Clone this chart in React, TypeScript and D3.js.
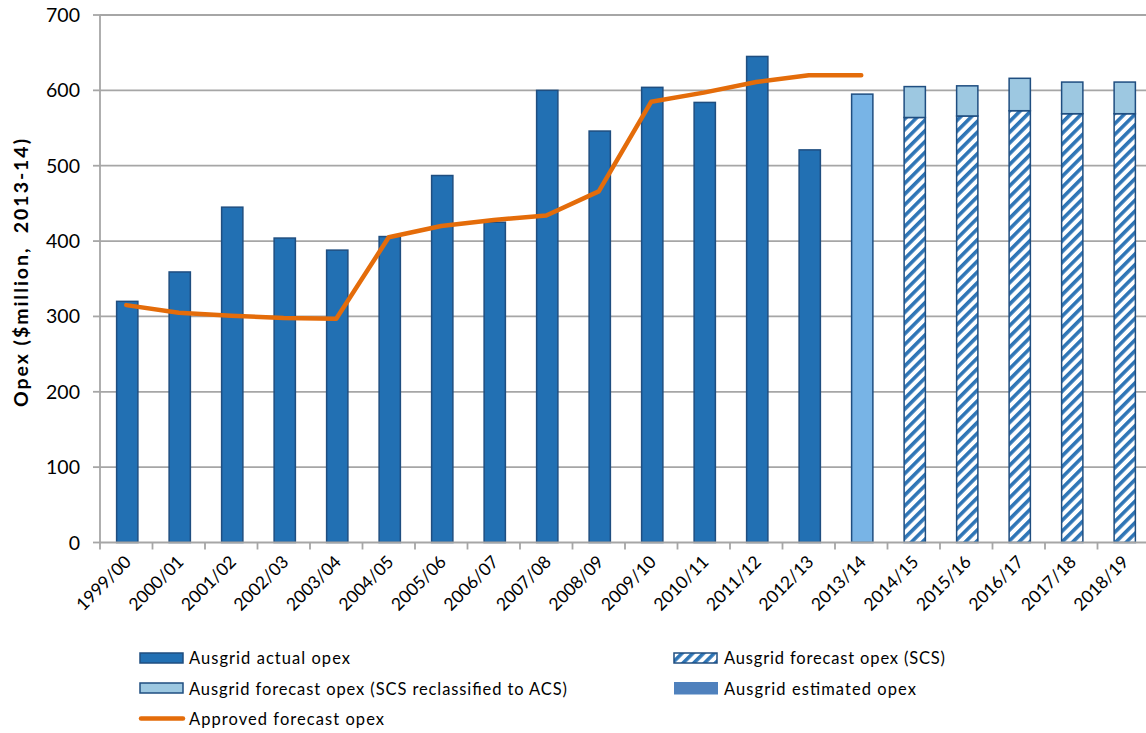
import React from "react";
import * as d3 from "d3";

const categories = [
  "1999/00", "2000/01", "2001/02", "2002/03", "2003/04", "2004/05", "2005/06",
  "2006/07", "2007/08", "2008/09", "2009/10", "2010/11", "2011/12", "2012/13",
  "2013/14", "2014/15", "2015/16", "2016/17", "2017/18", "2018/19",
];
const actualOpex: (number | null)[] = [
  320, 359, 445, 404, 388, 406, 487, 425, 600, 546, 604, 584, 645, 521,
  null, null, null, null, null, null,
];
const estimatedOpex: (number | null)[] = [
  null, null, null, null, null, null, null, null, null, null, null, null, null, null,
  595, null, null, null, null, null,
];
const forecastSCS: (number | null)[] = [
  null, null, null, null, null, null, null, null, null, null, null, null, null, null,
  null, 564, 566, 573, 569, 569,
];
const forecastReclassified: (number | null)[] = [
  null, null, null, null, null, null, null, null, null, null, null, null, null, null,
  null, 41, 40, 43, 42, 42,
];
const approvedForecast: (number | null)[] = [
  315, 305, 301, 298, 297, 405, 420, 428, 434, 466, 585, 597, 611, 620, 620,
  null, null, null, null, null,
];
const yTicks = [0, 100, 200, 300, 400, 500, 600, 700];

const W = 1146;
const H = 733;
const left = 100;
const right = 1150;
const top = 15;
const bottom = 542.5;

const C_ACTUAL = "#2270B3";
const C_EST_BAR = "#78B4E6";
const C_EST_LEG = "#4F81BD";
const C_RECLASS = "#9DC8E1";
const C_HATCH = "#2E75B6";
const C_BORDER = "#1F4E80";
const C_ORANGE = "#E46C0A";
const C_GRID = "#A6A6A6";

export default function App() {
  const x = d3.scaleBand<string>().domain(categories).range([left, right]).paddingInner(0.595).paddingOuter(0.2975);
  const y = d3.scaleLinear().domain([0, 700]).range([bottom, top]);
  const step = x.step();
  const bw = x.bandwidth();
  const bx0 = (c: string) => (x(c) as number) + 1;
  const cx = (c: string) => bx0(c) + bw / 2;

  const linePts = categories
    .map((c, i) => ({ c, v: approvedForecast[i] }))
    .filter((d) => d.v !== null) as { c: string; v: number }[];
  const line = d3.line<{ c: string; v: number }>().x((d) => cx(d.c) - 1).y((d) => y(d.v));

  const boundaries = categories.map((c) => (x(c) as number) - (step * 0.595) / 2);

  const font = "Lato, 'Liberation Sans', sans-serif";

  return (
    <svg width={W} height={H} style={{ position: "absolute", left: 0, top: 0, background: "#fff" }}>
      <defs>
        <pattern id="hatch" patternUnits="userSpaceOnUse" width={7.6} height={7.6} patternTransform="rotate(45)">
          <rect x={0} y={0} width={7.6} height={7.6} fill="#fff" />
          <rect x={0} y={0} width={3.6} height={7.6} fill={C_HATCH} />
        </pattern>
      </defs>
      {/* gridlines */}
      {yTicks.filter((t) => t > 0).map((t) => (
        <line key={t} x1={left} x2={W} y1={y(t)} y2={y(t)} stroke={C_GRID} strokeWidth={1.8} />
      ))}
      {/* y axis */}
      <line x1={left} x2={left} y1={top} y2={bottom} stroke={C_GRID} strokeWidth={1.8} />
      {yTicks.map((t) => (
        <g key={t}>
          <line x1={left - 7} x2={left} y1={y(t)} y2={y(t)} stroke={C_GRID} strokeWidth={1.8} />
          <text x={80} y={y(t)} dy="0.36em" textAnchor="end" fontFamily={font} fontSize={19.5} fill="#000">
            {t}
          </text>
        </g>
      ))}
      {/* bars */}
      {categories.map((c, i) => {
        const bx = bx0(c);
        const els: React.ReactNode[] = [];
        const a = actualOpex[i];
        if (a !== null) {
          els.push(<rect key="a" x={bx} y={y(a)} width={bw} height={y(0) - y(a)} fill={C_ACTUAL} stroke={C_BORDER} strokeWidth={1.5} />);
        }
        const e = estimatedOpex[i];
        if (e !== null) {
          els.push(<rect key="e" x={bx} y={y(e)} width={bw} height={y(0) - y(e)} fill={C_EST_BAR} stroke={C_BORDER} strokeWidth={1.5} />);
        }
        const s = forecastSCS[i];
        const r = forecastReclassified[i];
        if (s !== null) {
          els.push(<rect key="s" x={bx} y={y(s)} width={bw} height={y(0) - y(s)} fill="url(#hatch)" stroke={C_BORDER} strokeWidth={1.5} />);
          if (r !== null) {
            els.push(<rect key="r" x={bx} y={y(s + r)} width={bw} height={y(s) - y(s + r)} fill={C_RECLASS} stroke={C_BORDER} strokeWidth={1.5} />);
          }
        }
        return <g key={c}>{els}</g>;
      })}
      {/* x axis */}
      <line x1={left} x2={W} y1={bottom} y2={bottom} stroke={C_GRID} strokeWidth={1.8} />
      {boundaries.map((bx, i) => (
        <line key={i} x1={bx} x2={bx} y1={bottom} y2={bottom + 7} stroke={C_GRID} strokeWidth={1.8} />
      ))}
      {categories.map((c) => (
        <text key={c} transform={`translate(${cx(c) + 5},${563}) rotate(-45)`} textAnchor="end" fontFamily={font} fontSize={17.5} fill="#000">
          {c}
        </text>
      ))}
      {/* approved line */}
      <path d={line(linePts) as string} fill="none" stroke={C_ORANGE} strokeWidth={4.5} strokeLinejoin="round" strokeLinecap="round" />
      {/* y label */}
      <text
        transform={`translate(28,${273}) rotate(-90)`}
        textAnchor="middle"
        fontFamily={font}
        fontWeight="bold"
        fontSize={19.5}
        fill="#000"
        style={{ whiteSpace: "pre" }}
        textLength={268}
        lengthAdjust="spacing"
      >
        Opex ($million,  2013-14)
      </text>
      {/* legend */}
      <g fontFamily={font} fontSize={16.5} fill="#000">
        <rect x={140} y={653} width={43} height={10} fill={C_ACTUAL} stroke={C_BORDER} strokeWidth={1.5} />
        <text x={189} y={664} textLength={161} lengthAdjust="spacing">Ausgrid actual opex</text>
        <rect x={140} y={683} width={43} height={10} fill={C_RECLASS} stroke={C_BORDER} strokeWidth={1.5} />
        <text x={189} y={694.5} textLength={378} lengthAdjust="spacing">Ausgrid forecast opex (SCS reclassified to ACS)</text>
        <line x1={141} x2={183} y1={718.5} y2={718.5} stroke={C_ORANGE} strokeWidth={4.5} strokeLinecap="round" />
        <text x={189} y={725} textLength={195} lengthAdjust="spacing">Approved forecast opex</text>
        <rect x={674} y={653} width={43} height={10} fill="url(#hatch)" stroke={C_BORDER} strokeWidth={1.5} />
        <text x={724} y={664} textLength={221} lengthAdjust="spacing">Ausgrid forecast opex (SCS)</text>
        <rect x={674} y={682} width={44} height={12.5} fill={C_EST_LEG} />
        <text x={724} y={694.5} textLength={192} lengthAdjust="spacing">Ausgrid estimated opex</text>
      </g>
    </svg>
  );
}
